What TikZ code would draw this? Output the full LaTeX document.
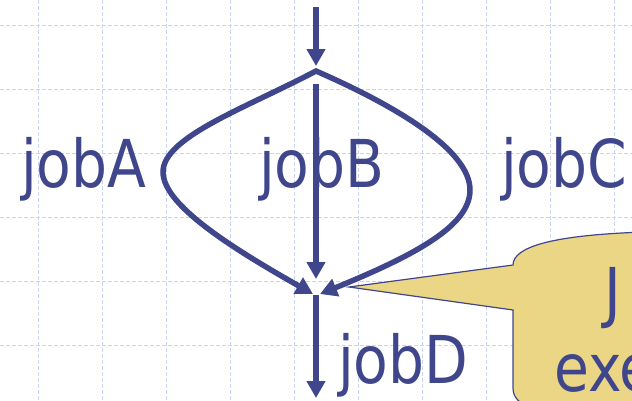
\documentclass[tikz,border=0pt]{standalone}
\usepackage{fontspec}
\usetikzlibrary{arrows.meta}
\newfontfamily\labfont{DejaVu Sans}[FakeStretch=0.86]
\definecolor{navy}{RGB}{64,70,140}
\definecolor{gridblue}{RGB}{200,212,246}
\definecolor{calloutfill}{RGB}{235,214,134}
\begin{document}
\begin{tikzpicture}[x=1pt,y=-1pt,
  gridline/.style={draw=gridblue,line width=1pt,dash pattern=on 4pt off 2pt},
  flow/.style={draw=navy,line width=5.5pt,line join=miter},
  tipend/.style={-{Triangle[length=17pt,width=18pt]}},
  tipboth/.style={{Triangle[length=17pt,width=18pt]}-{Triangle[length=17pt,width=18pt]}},
  joblabel/.style={text=navy,font=\labfont\fontsize{66}{70}\selectfont,inner sep=0pt,anchor=base west},
  callout/.style={draw=navy,line width=1.2pt,fill=calloutfill}]
\useasboundingbox (0,0) rectangle (632,400);
\clip (0,0) rectangle (632,400);
% grid
\foreach \gx in {38,102,...,614} \draw[gridline] (\gx,0) -- (\gx,400);
\foreach \gy in {25,89,...,345} \draw[gridline] (0,\gy) -- (632,\gy);
% coordinates
\coordinate (top) at (316,7);
\coordinate (forktip) at (316,66);
\coordinate (fork) at (316,71);
\coordinate (midstart) at (316,84);
\coordinate (midend) at (316,279);
\coordinate (jl) at (313,294);
\coordinate (jr) at (320,294);
\coordinate (jb) at (316,295);
\coordinate (bot) at (316,398);
\coordinate (ptip) at (349,287);
% arrows
\draw[flow,tipend] (top) -- (forktip);
\draw[flow,tipend] (midstart) -- (midend);
\draw[flow,tipboth] (jl) .. controls (232,248) and (163,205) .. (163,172)
   .. controls (163,137) and (246,108) .. (fork)
   .. controls (396,106) and (470,150) .. (470,190)
   .. controls (470,225) and (418,254) .. (jr);
\draw[flow,tipend] (jb) -- (bot);
% labels
\node[joblabel] (jobA) at (21,187) {jobA};
\node[joblabel] (jobB) at (259,187) {jobB};
\node[joblabel] (jobC) at (501,187) {jobC};
\node[joblabel] (jobD) at (338,383) {jobD};
% callout
\draw[callout] (ptip) -- (513,265) .. controls (513,247) and (552,235) .. (645,232)
   -- (645,406) -- (530,406) .. controls (519,404) and (513,397) .. (513,388)
   -- (513,310) -- cycle;
\node[joblabel] (callJ) at (604,315) {J};
\node[joblabel] (callexe) at (554,391) {exe};
\end{tikzpicture}
\end{document}
